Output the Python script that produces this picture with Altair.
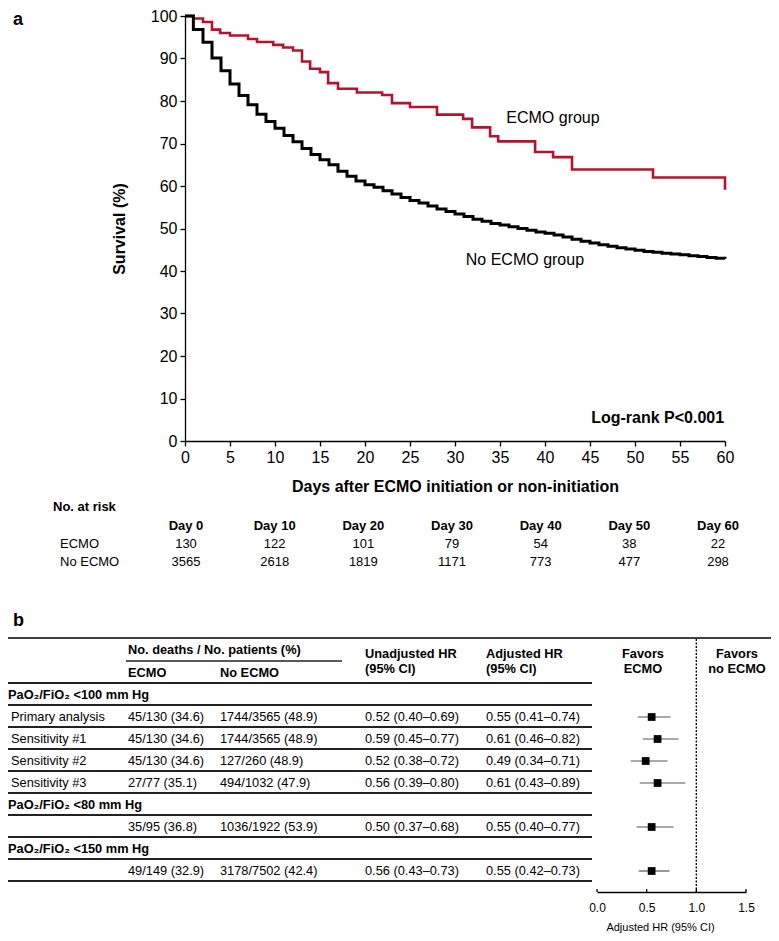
import altair as alt
import pandas as pd

FONT = "Liberation Sans, Arial, Helvetica, sans-serif"
RED = "#B0152F"
W, H = 763, 925

# ---------------- data: Kaplan-Meier curves ----------------
groups = ["ECMO group", "No ECMO group"]
ecmo_days = [0, 0.93, 2.0, 3.0, 3.9, 5.0, 7.0, 8.0, 9.8, 10.9, 12.0, 13.0, 13.9, 15.0,
             15.9, 17.0, 19.1, 21.9, 23.0, 25.0, 28.0, 30.9, 31.9, 33.9, 34.8, 38.9,
             40.9, 43.0, 52.0, 60.0, 60.0]
ecmo_surv = [100, 99.4, 98.6, 96.8, 96.0, 95.4, 94.6, 93.9, 93.2, 92.6, 91.9, 89.3, 87.6,
             86.8, 84.2, 82.9, 82.0, 81.4, 79.5, 78.6, 76.8, 75.8, 73.8, 71.7, 70.5, 68.0,
             66.8, 63.9, 62.0, 62.0, 59.1]
noecmo_days = [0, 0.93, 2, 3, 4, 5, 6, 7, 8, 9, 10, 11, 12, 13, 14, 15, 16, 17, 18, 19, 20,
               21, 22, 23, 24, 25, 26, 27, 28, 29, 30, 31, 32, 33, 34, 35, 36, 37, 38, 39,
               40, 41, 42, 43, 44, 45, 46, 47, 48, 49, 50, 51, 52, 53, 54, 55, 56, 57, 58,
               59, 60]
noecmo_surv = [100, 96.8, 93.8, 90.1, 87.1, 84.0, 81.3, 79.1, 76.9, 75.2, 73.6, 71.9, 70.4,
               68.8, 67.4, 66.2, 65.0, 63.5, 62.3, 61.2, 60.3, 59.7, 58.9, 58.1, 57.3, 56.6,
               56.0, 55.3, 54.6, 54.0, 53.4, 52.8, 52.2, 51.7, 51.2, 50.8, 50.4, 50.0, 49.6,
               49.2, 48.9, 48.5, 48.0, 47.5, 47.0, 46.6, 46.2, 45.8, 45.5, 45.2, 44.9, 44.6,
               44.4, 44.2, 44.0, 43.8, 43.6, 43.4, 43.2, 43.0, 42.9]

km_label_text = ["ECMO group", "No ECMO group"]
km_label_day = [35.7, 31.2]
km_label_surv = [76.0, 42.6]
logrank_text = "Log-rank P<0.001"

# ---------------- data: numbers at risk ----------------
risk_days = [0, 10, 20, 30, 40, 50, 60]
risk_headers = ["Day 0", "Day 10", "Day 20", "Day 30", "Day 40", "Day 50", "Day 60"]
risk_ecmo = [130, 122, 101, 79, 54, 38, 22]
risk_noecmo = [3565, 2618, 1819, 1171, 773, 477, 298]

# ---------------- data: forest table ----------------
row_labels = ["PaO₂/FiO₂ <100 mm Hg", "Primary analysis", "Sensitivity #1", "Sensitivity #2",
              "Sensitivity #3", "PaO₂/FiO₂ <80 mm Hg", "", "PaO₂/FiO₂ <150 mm Hg", ""]
row_is_group = [True, False, False, False, False, True, False, True, False]
col_ecmo = ["", "45/130 (34.6)", "45/130 (34.6)", "45/130 (34.6)", "27/77 (35.1)", "",
            "35/95 (36.8)", "", "49/149 (32.9)"]
col_noecmo = ["", "1744/3565 (48.9)", "1744/3565 (48.9)", "127/260 (48.9)", "494/1032 (47.9)",
              "", "1036/1922 (53.9)", "", "3178/7502 (42.4)"]
col_unadj = ["", "0.52 (0.40–0.69)", "0.59 (0.45–0.77)", "0.52 (0.38–0.72)",
             "0.56 (0.39–0.80)", "", "0.50 (0.37–0.68)", "", "0.56 (0.43–0.73)"]
col_adj = ["", "0.55 (0.41–0.74)", "0.61 (0.46–0.82)", "0.49 (0.34–0.71)",
           "0.61 (0.43–0.89)", "", "0.55 (0.40–0.77)", "", "0.55 (0.42–0.73)"]
forest_rows = [1, 2, 3, 4, 6, 8]
forest_hr = [0.55, 0.61, 0.49, 0.61, 0.55, 0.55]
forest_lo = [0.41, 0.46, 0.34, 0.43, 0.40, 0.42]
forest_hi = [0.74, 0.82, 0.71, 0.89, 0.77, 0.73]
hr_ticks = [0.0, 0.5, 1.0, 1.5]

# ---------------- layout helpers (page px -> chart px) ----------------
def cx(p):
    return max(p - 8, 0)

def ty(p):      # top section
    return p

def by(p):      # bottom section
    return p - 14

km_x = alt.Scale(domain=[0, 60], range=[cx(185), cx(725)], nice=False, zero=False)
km_y = alt.Scale(domain=[0, 100], range=[ty(433), ty(8)], nice=False, zero=False)
risk_x = alt.Scale(domain=[0, 60], range=[cx(186), cx(718)], nice=False, zero=False)
row_y = alt.Scale(domain=[0, 8], range=[by(701), by(877)], nice=False, zero=False)
hr_x = alt.Scale(domain=[0, 1.5], range=[cx(597), cx(746)], nice=False, zero=False)


def text_layer(texts, x, y, size=13, bold=False, align="left", baseline="middle"):
    df = pd.DataFrame({"t": texts})
    return alt.Chart(df).mark_text(
        align=align, baseline=baseline, font=FONT, fontSize=size,
        fontWeight="bold" if bold else "normal", color="black"
    ).encode(text="t:N", x=alt.value(x), y=alt.value(y))


layers = []

# ---------------- KM curves ----------------
km_rows = []
for i, (d, s) in enumerate(zip(ecmo_days, ecmo_surv)):
    km_rows.append({"group": groups[0], "day": d, "surv": s, "idx": i})
for i, (d, s) in enumerate(zip(noecmo_days, noecmo_surv)):
    km_rows.append({"group": groups[1], "day": d, "surv": s, "idx": i})
km_df = pd.DataFrame(km_rows)

axis_common = dict(
    domainColor="black", domainWidth=1.3, tickColor="black", tickWidth=1.3, tickSize=5,
    labelFont=FONT, labelFontSize=16, labelColor="black", labelPadding=3,
    titleFont=FONT, titleFontSize=16, titleFontWeight="bold", titleColor="black",
    grid=False, labelFlush=False, labelOverlap=False,
)

km_lines = alt.Chart(km_df).mark_line(interpolate="step-after").encode(
    x=alt.X("day:Q", scale=km_x, axis=alt.Axis(
        values=[0, 5, 10, 15, 20, 25, 30, 35, 40, 45, 50, 55, 60], orient="bottom",
        offset=ty(433) - H, title="Days after ECMO initiation or non-initiation",
        titlePadding=13, labelAngle=0, **axis_common)),
    y=alt.Y("surv:Q", scale=km_y, axis=alt.Axis(
        values=[0, 10, 20, 30, 40, 50, 60, 70, 80, 90, 100], orient="left",
        offset=-cx(185), title="Survival (%)", titlePadding=23, **axis_common)),
    color=alt.Color("group:N", scale=alt.Scale(domain=groups, range=[RED, "black"]), legend=None),
    strokeWidth=alt.StrokeWidth("group:N", scale=alt.Scale(domain=groups, range=[2.6, 3.0]),
                                legend=None),
    order=alt.Order("idx:Q"),
)
layers.append(km_lines)

km_lab_df = pd.DataFrame({"t": km_label_text, "day": km_label_day, "surv": km_label_surv})
layers.append(alt.Chart(km_lab_df).mark_text(
    align="left", baseline="middle", font=FONT, fontSize=16, color="black"
).encode(
    x=alt.X("day:Q", scale=km_x, axis=None),
    y=alt.Y("surv:Q", scale=km_y, axis=None),
    text="t:N",
))
lr_df = pd.DataFrame({"t": [logrank_text], "day": [59.9], "surv": [5.4]})
layers.append(alt.Chart(lr_df).mark_text(
    align="right", baseline="middle", font=FONT, fontSize=16, fontWeight="bold", color="black"
).encode(
    x=alt.X("day:Q", scale=km_x, axis=None),
    y=alt.Y("surv:Q", scale=km_y, axis=None),
    text="t:N",
))

# panel letters
layers.append(text_layer(["a"], 5, ty(17), size=18, bold=True, baseline="alphabetic"))
layers.append(text_layer(["b"], 5, by(632), size=18, bold=True, baseline="alphabetic"))

# ---------------- numbers at risk ----------------
layers.append(text_layer(["No. at risk"], cx(53), ty(499), size=13, bold=True))
risk_df = pd.DataFrame({"day": risk_days, "hdr": risk_headers,
                        "e": [str(v) for v in risk_ecmo], "n": [str(v) for v in risk_noecmo]})
for field, ypos, bold in [("hdr", ty(518), True), ("e", ty(536), False), ("n", ty(554), False)]:
    layers.append(alt.Chart(risk_df).mark_text(
        align="center", baseline="middle", font=FONT, fontSize=13,
        fontWeight="bold" if bold else "normal", color="black"
    ).encode(x=alt.X("day:Q", scale=risk_x, axis=None), y=alt.value(ypos), text=f"{field}:N"))
layers.append(text_layer(["ECMO"], cx(60), ty(536), size=13))
layers.append(text_layer(["No ECMO"], cx(60), ty(554), size=13))

# ---------------- forest table ----------------
TS = 12.8
line_df = pd.DataFrame({"x": [0]})
layers.append(alt.Chart(line_df).mark_rule(color="black", strokeWidth=1.5).encode(
    x=alt.value(0), x2=alt.value(W), y=alt.value(by(644))))
layers.append(alt.Chart(line_df).mark_rule(color="#222", strokeWidth=1.5).encode(
    x=alt.value(cx(126)), x2=alt.value(cx(342)), y=alt.value(by(667))))
sep_df = pd.DataFrame({"r": [i + 10 / 22 for i in range(-1, 9)]})
layers.append(alt.Chart(sep_df).mark_rule(color="#222", strokeWidth=2).encode(
    x=alt.value(0), x2=alt.value(cx(592)),
    y=alt.Y("r:Q", scale=row_y, axis=None)))

# headers
layers.append(text_layer(["No. deaths / No. patients (%)"], cx(128), by(656), size=TS, bold=True))
layers.append(text_layer(["ECMO"], cx(128), by(679), size=TS, bold=True))
layers.append(text_layer(["No ECMO"], cx(220), by(679), size=TS, bold=True))
layers.append(text_layer(["Unadjusted HR"], cx(365), by(660), size=TS, bold=True))
layers.append(text_layer(["(95% CI)"], cx(365), by(675), size=TS, bold=True))
layers.append(text_layer(["Adjusted HR"], cx(486), by(660), size=TS, bold=True))
layers.append(text_layer(["(95% CI)"], cx(486), by(675), size=TS, bold=True))
layers.append(text_layer(["Favors"], cx(643), by(660), size=TS, bold=True, align="center"))
layers.append(text_layer(["ECMO"], cx(643), by(675), size=TS, bold=True, align="center"))
layers.append(text_layer(["Favors"], cx(737), by(660), size=TS, bold=True, align="center"))
layers.append(text_layer(["no ECMO"], cx(737), by(675), size=TS, bold=True, align="center"))

tbl_df = pd.DataFrame({
    "row": list(range(len(row_labels))), "label": row_labels, "grp": row_is_group,
    "e": col_ecmo, "n": col_noecmo, "u": col_unadj, "a": col_adj,
})
layers.append(alt.Chart(tbl_df[tbl_df.grp]).mark_text(
    align="left", baseline="middle", font=FONT, fontSize=TS, fontWeight="bold", color="black"
).encode(x=alt.value(0), y=alt.Y("row:Q", scale=row_y, axis=None), text="label:N"))
layers.append(alt.Chart(tbl_df[~tbl_df.grp]).mark_text(
    align="left", baseline="middle", font=FONT, fontSize=TS, color="black"
).encode(x=alt.value(cx(11)), y=alt.Y("row:Q", scale=row_y, axis=None), text="label:N"))
for field, xpos in [("e", cx(128)), ("n", cx(220)), ("u", cx(365)), ("a", cx(486))]:
    layers.append(alt.Chart(tbl_df).mark_text(
        align="left", baseline="middle", font=FONT, fontSize=TS, color="black"
    ).encode(x=alt.value(xpos), y=alt.Y("row:Q", scale=row_y, axis=None), text=f"{field}:N"))

# ---------------- forest plot ----------------
fp_df = pd.DataFrame({"row": forest_rows, "hr": forest_hr, "lo": forest_lo, "hi": forest_hi})
ref_df = pd.DataFrame({"v": [1.0]})
layers.append(alt.Chart(ref_df).mark_rule(color="black", strokeWidth=1.4, strokeDash=[2, 1.5]).encode(
    x=alt.X("v:Q", scale=hr_x, axis=None), y=alt.value(by(645)), y2=alt.value(by(898))))
layers.append(alt.Chart(fp_df).mark_rule(color="#555", strokeWidth=1.2).encode(
    x=alt.X("lo:Q", scale=hr_x, axis=None), x2="hi:Q",
    y=alt.Y("row:Q", scale=row_y, axis=None)))
layers.append(alt.Chart(fp_df).mark_square(size=60, color="black", opacity=1).encode(
    x=alt.X("hr:Q", scale=hr_x, axis=alt.Axis(
        values=hr_ticks, format=".1f", orient="bottom", offset=by(898) - H,
        ticks=False, tickSize=0, domainColor="black", domainWidth=1.3,
        labelFont=FONT, labelFontSize=12, labelColor="black", labelPadding=10,
        labelFlush=False, labelOverlap=False, grid=False,
        title="Adjusted HR (95% CI)", titleFont=FONT, titleFontSize=11,
        titleFontWeight="normal", titleColor="black", titlePadding=8, titleX=cx(660))),
    y=alt.Y("row:Q", scale=row_y, axis=None)))
tick_df = pd.DataFrame({"v": hr_ticks})
layers.append(alt.Chart(tick_df).mark_rule(color="black", strokeWidth=1.3).encode(
    x=alt.X("v:Q", scale=hr_x, axis=None), y=alt.value(by(895)), y2=alt.value(by(898))))

chart = alt.layer(*layers).resolve_scale(
    x="independent", y="independent", color="independent", strokeWidth="independent"
).properties(
    width=W, height=H, padding=0, autosize=alt.AutoSizeParams(type="none")
).configure_view(stroke=None)

chart.save("out.html", embed_options={"renderer": "svg", "actions": False})
